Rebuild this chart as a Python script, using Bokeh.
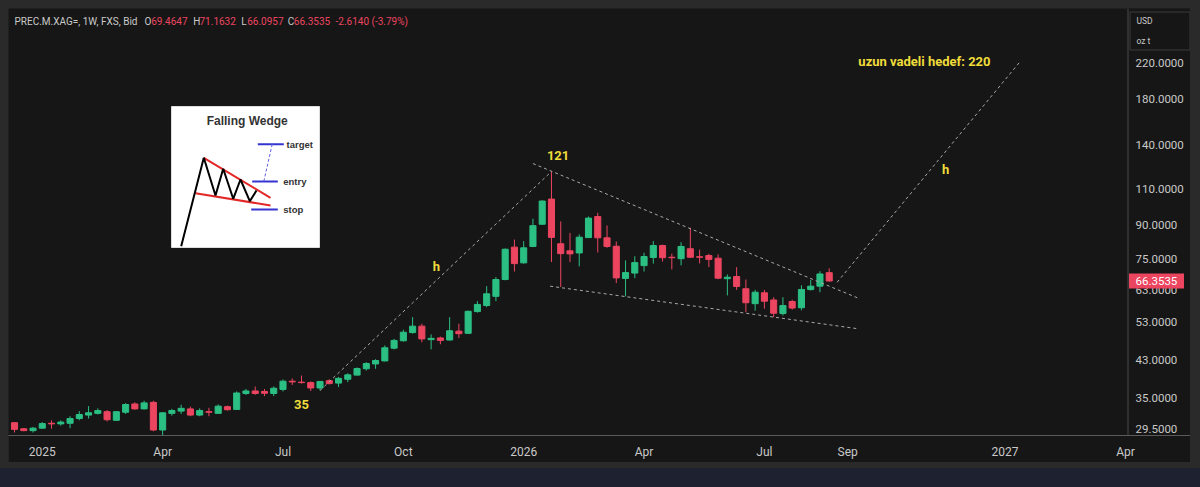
import numpy as np
import pandas as pd
from bokeh.plotting import figure
from bokeh.models import (Range1d, LinearScale, FixedTicker, CustomJSTickFormatter,
                          ColumnDataSource, GlobalInlineStyleSheet)
from bokeh.core.properties import value
from bokeh.embed import file_html
from bokeh.resources import INLINE

# ---------------- data ----------------
symbol = "PREC.M.XAG=, 1W, FXS, Bid"
unit_lines = ["USD", "oz t"]
first_week = "2024-12-09"   # weekly bars (Monday open)

opens = [30.5, 29.5, 29.2, 29.6, 30.4, 30.3, 30.4, 31.2, 31.8, 32.1,
         32.4, 30.9, 32.3, 33.8, 32.9, 34.1, 29.3, 32.1, 32.5, 32.9,
         31.8, 32.4, 32.1, 33.3, 32.8, 35.8, 36.3, 36.2, 35.8, 36.6,
         38.3, 38.1, 38.0, 36.9, 38.4, 37.9, 38.7, 39.6, 41.0, 42.1,
         42.8, 45.9, 47.8, 50.0, 51.8, 48.1, 48.55, 48.0, 50.4, 49.8,
         56.1, 58.0, 61.0, 66.9, 79.9, 73.3, 80.2, 90.6, 104.0, 81.4,
         78.3, 77.4, 84.2, 94.5, 84.1, 80.3, 67.3, 69.3, 72.2, 75.5,
         80.6, 75.6, 75.0, 79.2, 75.8, 76.3, 75.2, 67.2, 68.0, 63.6,
         58.6, 62.2, 59.8, 55.5, 59.3, 57.3, 63.3, 64.5, 69.4647]
highs = [30.6, 29.6, 29.8, 30.6, 30.9, 30.9, 31.6, 32.5, 33.4, 33.0,
         32.7, 32.5, 33.95, 34.1, 34.4, 34.4, 32.3, 32.9, 33.65, 33.3,
         33.0, 33.1, 33.7, 33.5, 36.2, 36.7, 37.2, 36.7, 37.2, 38.65,
         38.9, 39.5, 38.25, 38.3, 38.7, 39.2, 40.0, 41.3, 42.5, 43.2,
         46.6, 48.3, 50.8, 54.4, 52.5, 49.5, 48.9, 54.4, 52.5, 56.4,
         59.4, 64.5, 67.8, 79.3, 83.3, 82.6, 93.4, 103.3, 121.0, 92.0,
         86.4, 85.7, 94.5, 96.5, 90.0, 82.4, 74.3, 76.0, 77.5, 82.6,
         81.0, 77.1, 82.1, 88.9, 78.8, 77.0, 76.8, 68.8, 71.6, 66.9,
         63.2, 63.2, 60.7, 60.7, 59.9, 64.8, 66.8, 70.0, 71.1632]
lows = [28.9, 29.1, 28.9, 29.5, 29.5, 30.0, 29.6, 30.9, 31.2, 31.9,
        30.7, 30.8, 32.0, 32.75, 32.8, 29.1, 28.4, 31.7, 32.0, 31.6,
        31.6, 31.6, 32.05, 32.6, 32.8, 35.5, 35.55, 35.3, 35.3, 36.2,
        37.5, 37.8, 36.3, 36.4, 37.6, 37.1, 38.1, 39.5, 40.6, 41.0,
        42.7, 45.6, 47.6, 49.7, 47.4, 45.6, 46.9, 47.9, 48.55, 49.6,
        55.8, 57.5, 59.4, 66.6, 69.9, 73.0, 79.9, 90.4, 73.6, 64.2,
        73.6, 71.9, 84.0, 77.6, 79.6, 65.6, 61.0, 67.4, 69.9, 73.0,
        73.8, 70.7, 72.3, 75.4, 73.1, 71.6, 67.0, 61.3, 63.2, 55.9,
        56.4, 57.0, 54.4, 54.9, 56.7, 56.5, 63.0, 62.4, 66.0957]
closes = [29.4, 29.2, 29.6, 30.35, 30.3, 30.6, 31.2, 31.9, 32.2, 32.6,
          31.0, 32.4, 33.7, 32.9, 34.0, 29.3, 32.2, 32.6, 33.0, 31.8,
          32.6, 32.3, 33.4, 32.75, 35.9, 36.3, 35.8, 35.85, 36.85, 38.3,
          38.15, 38.0, 36.9, 38.25, 37.8, 38.9, 39.65, 41.05, 42.2, 42.9,
          46.0, 47.9, 50.1, 51.8, 48.3, 48.45, 47.9, 50.5, 49.7, 56.2,
          58.35, 61.85, 66.9, 79.0, 73.0, 79.6, 89.9, 102.9, 84.3, 77.1,
          77.0, 84.4, 93.7, 84.1, 80.2, 67.5, 69.5, 73.4, 75.9, 80.6,
          75.4, 75.4, 80.2, 75.6, 75.6, 74.7, 67.4, 67.75, 64.4, 58.9,
          62.4, 59.4, 55.6, 58.0, 57.2, 63.35, 64.5, 68.9675, 66.3535]

price_ticks = [29.5, 35, 43, 53, 63, 75, 90, 110, 140, 180, 220]
month_ticks = ["2025-01-01", "2025-04-01", "2025-07-01", "2025-10-01", "2026-01-01",
               "2026-04-01", "2026-07-01", "2026-09-01", "2027-01-01", "2027-04-01"]

# dashed drawings (date, price)
rise_dates, rise_prices = ["2025-07-28", "2026-01-19"], [36.4, 121.0]
upper_dates, upper_prices = ["2026-01-05", "2026-09-09"], [126.4, 60.2]
lower_dates, lower_prices = ["2026-01-18", "2026-09-07"], [64.5, 51.1]
target_dates, target_prices = ["2026-08-23", "2027-01-09"], [65.9, 222.4]

ann_text = ["121", "35", "h", "h", "uzun vadeli hedef: 220"]
ann_dates = ["2026-01-24", "2025-07-14", "2025-10-24", "2026-11-13", "2026-10-28"]
ann_prices = [132.0, 33.7, 71.9, 122.3, 221.2]

# falling-wedge schematic (pixels inside the white picture box, 148 x 141)
wedge_zig_x = [9.7, 32.3, 44.0, 51.7, 61.7, 69.0, 78.3, 85.0]
wedge_zig_y = [139.7, 51.3, 89.0, 62.3, 92.3, 73.0, 94.7, 84.0]
wedge_red_x0, wedge_red_y0 = [32.3, 24.0], [51.3, 86.7]
wedge_red_x1, wedge_red_y1 = [99.0, 99.0], [91.3, 99.0]
wedge_blue_x0, wedge_blue_x1 = [86.3, 80.7, 79.7], [112.3, 106.3, 106.3]
wedge_blue_y = [37.7, 75.0, 103.0]
wedge_labels = ["target", "entry", "stop"]
wedge_label_x = [115.0, 111.7, 111.7]

# ---------------- style / layout ----------------
BG = "#161616"
UP = "#2bbf84"
DOWN = "#ec4560"
TXT = "#c9c9c9"
YEL = "#f0dc3a"
DASH = "#a9a9a9"
SEP = "#4a4a4a"
FIG_W, FIG_H = 1182, 454
FRAME_H = 427
CHART_W = 1120          # width of the candle pane; price scale to its right
PX_PER_DAY = 9.258 / 7.0

dates = pd.date_range(first_week, periods=len(opens), freq="7D")
o, h, l, c = map(np.array, (opens, highs, lows, closes))
up = c >= o
src = ColumnDataSource(dict(
    date=dates, open=o, high=h, low=l, close=c,
    top=np.maximum(o, c), bottom=np.minimum(o, c),
    color=np.where(up, UP, DOWN)))

x_start = pd.Timestamp(first_week) - pd.Timedelta(days=4.54)
x_end = x_start + pd.Timedelta(days=FIG_W / PX_PER_DAY)

p = figure(width=FIG_W, height=FIG_H, x_axis_type="datetime", y_axis_type="log",
           y_axis_location=None,
           x_range=Range1d(x_start, x_end), y_range=Range1d(28.43, 295.9),
           output_backend="svg", toolbar_location=None,
           min_border_left=0, min_border_top=0, min_border_right=0,
           min_border_bottom=FIG_H - FRAME_H,
           background_fill_color=BG, border_fill_color=BG, outline_line_color=None)
p.xgrid.visible = False
p.ygrid.visible = False

p.extra_x_ranges = {"px": Range1d(0, FIG_W)}
p.extra_y_ranges = {"px": Range1d(FRAME_H, 0)}
p.extra_x_scales = {"px": LinearScale()}
p.extra_y_scales = {"px": LinearScale()}

# candles
day_ms = 86400000
p.segment(x0="date", y0="low", x1="date", y1="high", line_color="color", line_width=1, source=src)
p.vbar(x="date", width=4.6 * day_ms, top="top", bottom="bottom",
       fill_color="color", line_color="color", line_width=1, source=src)

# dashed drawings
for ds, ps in [(rise_dates, rise_prices), (upper_dates, upper_prices),
               (lower_dates, lower_prices), (target_dates, target_prices)]:
    p.line(pd.to_datetime(ds), ps, line_color=DASH, line_width=1, line_dash="3 3")

p.text(x=pd.to_datetime(ann_dates), y=ann_prices, text=ann_text, text_color=YEL,
       text_font=value("Roboto"), text_font_style="bold", text_font_size="13px",
       text_align="center", text_baseline="middle")

# falling wedge picture
BX, BY, BW, BH = 163.0, 98.0, 148.0, 141.0
p.quad(left=[BX], right=[BX + BW], top=[BY], bottom=[BY + BH], fill_color="white",
       line_color="#dddddd", x_range_name="px", y_range_name="px")
p.text(x=[BX + 75.7], y=[BY + 14.0], text=["Falling Wedge"], text_color="#333333",
       text_font=value("Liberation Sans"), text_font_style="bold", text_font_size="12px",
       text_align="center", text_baseline="middle", x_range_name="px", y_range_name="px")
p.segment(x0=[BX + v for v in wedge_red_x0], y0=[BY + v for v in wedge_red_y0],
          x1=[BX + v for v in wedge_red_x1], y1=[BY + v for v in wedge_red_y1],
          line_color="#e32626", line_width=2, x_range_name="px", y_range_name="px")
p.line(x=[BX + v for v in wedge_zig_x], y=[BY + v for v in wedge_zig_y],
       line_color="black", line_width=2, x_range_name="px", y_range_name="px")
p.segment(x0=[BX + v for v in wedge_blue_x0], y0=[BY + v for v in wedge_blue_y],
          x1=[BX + v for v in wedge_blue_x1], y1=[BY + v for v in wedge_blue_y],
          line_color="#3434d0", line_width=2, x_range_name="px", y_range_name="px")
p.line(x=[BX + 100.7, BX + 92.3], y=[BY + wedge_blue_y[0], BY + wedge_blue_y[1]],
       line_color="#6060e0", line_width=1, line_dash="3 2", x_range_name="px", y_range_name="px")
p.text(x=[BX + v for v in wedge_label_x], y=[BY + v for v in wedge_blue_y], text=wedge_labels,
       text_color="#333333", text_font=value("Liberation Sans"), text_font_style="bold",
       text_font_size="9.5px", text_align="left", text_baseline="middle",
       x_range_name="px", y_range_name="px")

# header legend
chg = closes[-1] - closes[-2]
pct = chg / closes[-2] * 100
hdr_text = [symbol, "O", f"{opens[-1]:.4f}", "H", f"{highs[-1]:.4f}", "L", f"{lows[-1]:.4f}",
            "C", f"{closes[-1]:.4f}", f"{chg:.4f} ({pct:.2f}%)"]
hdr_x = [6.0, 136.0, 142.7, 184.7, 191.0, 232.7, 238.7, 279.3, 285.3, 327.0]
val_col = DOWN if chg < 0 else UP
hdr_col = [TXT, TXT, val_col, TXT, val_col, TXT, val_col, TXT, val_col, val_col]
p.text(x=hdr_x, y=[12.7] * len(hdr_x), text=hdr_text, text_color=hdr_col,
       text_font=value("Roboto"), text_font_size="10px", text_align="left",
       text_baseline="middle", x_range_name="px", y_range_name="px")

# price scale (right pane), positioned through the log price scale
p.quad(left=[CHART_W], right=[FIG_W], top=[0], bottom=[FRAME_H], fill_color=BG,
       line_color=None, x_range_name="px", y_range_name="px")
p.segment(x0=[CHART_W - 0.5], y0=[0], x1=[CHART_W - 0.5], y1=[FRAME_H], line_color=SEP,
          line_width=1, x_range_name="px", y_range_name="px")
p.text(x=[CHART_W + 7] * len(price_ticks), y=price_ticks,
       text=[f"{t:.4f}" for t in price_ticks], text_color=TXT,
       text_font=value("Roboto"), text_font_size="11.5px", text_align="left",
       text_baseline="middle", x_range_name="px")
p.rect(x=[CHART_W + 28], y=[closes[-1]], width=55, height=15, width_units="screen",
       height_units="screen", fill_color=DOWN, line_color=None, x_range_name="px")
p.text(x=[CHART_W + 7], y=[closes[-1]], text=[f"{closes[-1]:.4f}"], text_color="white",
       text_font=value("Roboto"), text_font_size="11.5px", text_align="left",
       text_baseline="middle", x_range_name="px")
p.quad(left=[CHART_W + 1.5], right=[CHART_W + 61.5], top=[3.5], bottom=[41.5],
       fill_color=BG, line_color="#3a3a3a", line_width=1, x_range_name="px", y_range_name="px")
p.text(x=[CHART_W + 8] * 2, y=[12.7, 32.7], text=unit_lines, text_color=TXT,
       text_font=value("Roboto"), text_font_size="8.5px", text_align="left",
       text_baseline="middle", x_range_name="px", y_range_name="px")

# time axis
tick_ms = []
for s in month_ticks:
    d = pd.Timestamp(s)
    mon = d - pd.Timedelta(days=d.weekday())
    tick_ms.append((mon - pd.Timestamp("1970-01-01")) // pd.Timedelta(milliseconds=1))
xa = p.xaxis[0]
xa.ticker = FixedTicker(ticks=tick_ms)
xa.formatter = CustomJSTickFormatter(code="""
const names = ["Jan","Feb","Mar","Apr","May","Jun","Jul","Aug","Sep","Oct","Nov","Dec"];
const d = new Date(tick + 6*86400000);
const m = d.getUTCMonth();
return m === 0 ? String(d.getUTCFullYear()) : names[m];
""")
xa.major_label_text_color = TXT
xa.major_label_text_font = "Roboto"
xa.major_label_text_font_size = "12px"
xa.major_tick_line_color = None
xa.minor_tick_line_color = None
xa.axis_line_color = "#5a5a5a"
xa.major_label_standoff = 3

p.stylesheets = [GlobalInlineStyleSheet(css=(
    "html{background:#1e2130 linear-gradient(#2a2a2a,#2a2a2a) no-repeat;"
    "background-size:100% 468px;min-height:100%;}"
    "body{background:transparent;margin:0;padding:8px 0 0 8px;}"))]

open("out.html", "w").write(file_html(p, INLINE))
